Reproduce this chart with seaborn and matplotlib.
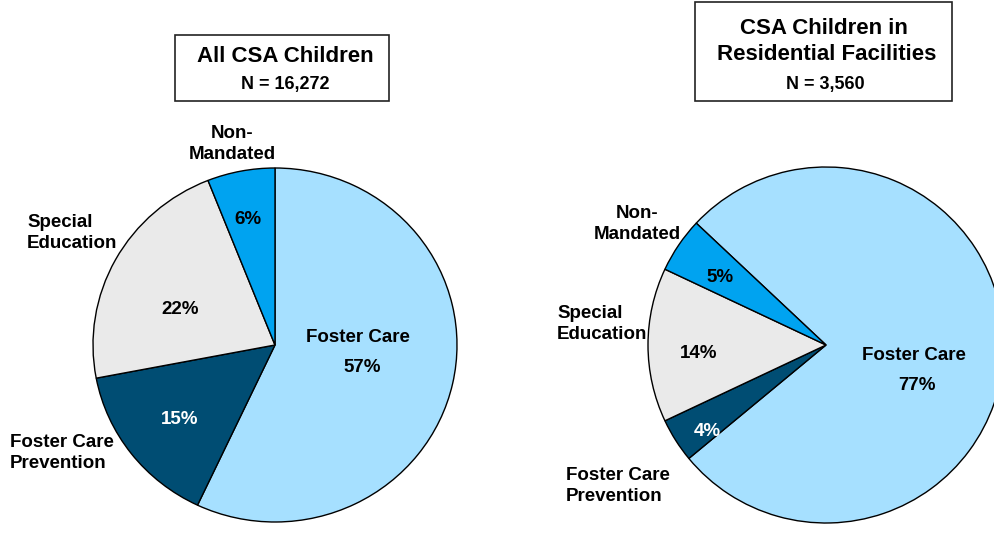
import matplotlib
matplotlib.use("Agg")
import matplotlib.pyplot as plt
from matplotlib.patches import Rectangle
import seaborn as sns

# Data (order drawn clockwise starting with Foster Care)
categories = ["Foster Care", "Foster Care Prevention", "Special Education", "Non-Mandated"]
all_csa = [57, 15, 22, 6]
residential = [77, 4, 14, 5]
all_n = "16,272"
res_n = "3,560"

colors = ["#A6E0FF", "#004D73", "#EAEAEA", "#00A3F0"]
pct_colors = ["black", "white", "black", "black"]

sns.set_theme(style="white")
plt.rcParams["font.family"] = ["Liberation Sans", "DejaVu Sans"]
plt.rcParams["font.weight"] = "bold"
plt.rcParams["text.color"] = "black"

W, H = 994, 540
fig = plt.figure(figsize=(W / 100, H / 100), dpi=100)
fig.patch.set_facecolor("white")


def pie_axes(cx, cy, rx, ry):
    # axes in pixel space (image y measured from top)
    ax = fig.add_axes([(cx - rx) / W, (H - cy - ry) / H, 2 * rx / W, 2 * ry / H])
    return ax


def draw_pie(ax, vals, start):
    wedges, _ = ax.pie(vals, colors=colors, startangle=start, counterclock=False,
                       wedgeprops=dict(edgecolor="black", linewidth=1.0))
    ax.set_aspect("auto")
    ax.set_xlim(-1, 1)
    ax.set_ylim(-1, 1)
    ax.axis("off")
    return wedges


ax1 = pie_axes(275, 345, 182, 177)
draw_pie(ax1, all_csa, 90)
ax2 = pie_axes(826, 345, 178, 178)
draw_pie(ax2, residential, 136.8)

# overlay axes for text in pixel coordinates
ov = fig.add_axes([0, 0, 1, 1])
ov.set_xlim(0, W)
ov.set_ylim(H, 0)
ov.axis("off")

lab = dict(fontsize=13.5, fontweight="bold", linespacing=1.25, color="black")

# left pie labels
ov.text(232, 144, "Non-\nMandated", ha="center", va="center", **lab)
ov.text(27, 233, "Special\nEducation", ha="left", va="center", **lab)
ov.text(10, 453, "Foster Care\nPrevention", ha="left", va="center", **lab)
ov.text(248, 219, f"{all_csa[3]}%", ha="center", va="center", **{**lab, "color": pct_colors[3]})
ov.text(180, 309, f"{all_csa[2]}%", ha="center", va="center", **{**lab, "color": pct_colors[2]})
ov.text(180, 420, f"{all_csa[1]}%", ha="center", va="center", **{**lab, "color": pct_colors[1]})
ov.text(358, 338, "Foster Care", ha="center", va="center", **lab)
ov.text(362, 368, f"{all_csa[0]}%", ha="center", va="center", **lab)

# right pie labels
ov.text(637, 224, "Non-\nMandated", ha="center", va="center", **lab)
ov.text(557, 324, "Special\nEducation", ha="left", va="center", **lab)
ov.text(566, 486, "Foster Care\nPrevention", ha="left", va="center", **lab)
ov.text(720, 278, f"{residential[3]}%", ha="center", va="center", **{**lab, "color": pct_colors[3]})
ov.text(699, 353, f"{residential[2]}%", ha="center", va="center", **{**lab, "color": pct_colors[2]})
ov.text(707, 432, f"{residential[1]}%", ha="center", va="center", **{**lab, "color": pct_colors[1]})
ov.text(914, 355, "Foster Care", ha="center", va="center", **lab)
ov.text(917, 385, f"{residential[0]}%", ha="center", va="center", **lab)

# title boxes
ov.add_patch(Rectangle((175, 35), 214, 66, fill=False, edgecolor="#222222", linewidth=1.2))
ov.text(285, 56, "All CSA Children", ha="center", va="center", fontsize=16, fontweight="bold")
ov.text(285, 84, f"N = {all_n}", ha="center", va="center", fontsize=13, fontweight="bold")

ov.add_patch(Rectangle((695, 2), 257, 99, fill=False, edgecolor="#222222", linewidth=1.2))
ov.text(824, 28, "CSA Children in", ha="center", va="center", fontsize=16, fontweight="bold")
ov.text(827, 54, "Residential Facilities", ha="center", va="center", fontsize=16, fontweight="bold")
ov.text(825, 84, f"N = {res_n}", ha="center", va="center", fontsize=13, fontweight="bold")

fig.savefig("out.png", dpi=100, facecolor="white")
